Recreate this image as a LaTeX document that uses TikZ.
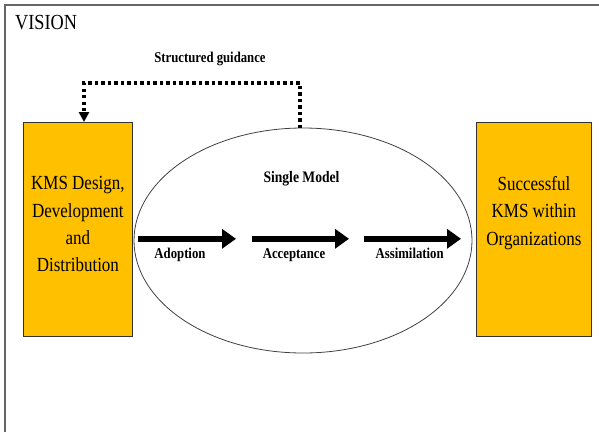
\documentclass[tikz,border=0pt]{standalone}
\usepackage{fontspec}
\setmainfont[FakeStretch=0.85]{Liberation Serif}
\usetikzlibrary{arrows.meta,shapes.geometric}
\definecolor{gold}{HTML}{FFC000}
\begin{document}
\begin{tikzpicture}[x=1pt,y=-1pt,
  goldbox/.style={draw=black!80, line width=0.8pt, fill=gold, minimum width=109pt,
    minimum height=214pt, anchor=north west, inner sep=0pt},
  boxtext/.style={anchor=north, align=center, inner sep=0pt,
    font=\fontsize{20}{27.4}\selectfont},
  stagearrow/.style={line width=6.5pt, -{Triangle[length=14pt,width=19pt]}},
  stagelabel/.style={anchor=base, font=\bfseries\fontsize{15}{17}\selectfont, inner sep=0pt},
  guide/.style={line width=3.2pt, dash pattern=on 3.2pt off 3.3pt, line cap=butt,
    -{Triangle[length=10pt,width=10pt]}}]
  \useasboundingbox (0,0) rectangle (599,432);
  % outer frame (left and top edges only)
  \draw[black!60, line width=1.4pt] (5,432) -- (5,5) -- (599,5);
  \node[anchor=west, font=\fontsize{21.5}{24}\selectfont, inner sep=0pt] (title) at (15,22.5) {VISION};

  % the two end boxes
  \node[goldbox] (kms) at (23,122) {};
  \node[boxtext] (kmstext) at (kms.center |- 0,176.3) {KMS Design,\\Development\\and\\Distribution};
  \node[goldbox, minimum width=115pt] (succ) at (476,122) {};
  \node[boxtext] (succtext) at (succ.center |- 0,176.3) {Successful\\KMS within\\Organizations};

  % central model
  \node[draw=black!75, line width=0.8pt, ellipse, minimum width=338pt, minimum height=225pt,
    inner sep=0pt] (model) at (303,240.5) {};
  \node[stagelabel, font=\bfseries\fontsize{16}{18}\selectfont] (single) at (301.5,182.7) {Single Model};

  % stages
  \coordinate (a1) at (138,238.8); \coordinate (a2) at (236,238.8);
  \coordinate (b1) at (252,238.8); \coordinate (b2) at (349,238.8);
  \coordinate (c1) at (364,238.8); \coordinate (c2) at (461,238.8);
  \draw[stagearrow] (a1) -- (a2);
  \draw[stagearrow] (b1) -- (b2);
  \draw[stagearrow] (c1) -- (c2);
  \node[stagelabel] (adopt) at (180,258.3) {Adoption};
  \node[stagelabel] (accept) at (294,258.3) {Acceptance};
  \node[stagelabel] (assim) at (409.7,258.3) {Assimilation};

  % feedback path
  \node[stagelabel] (guidance) at (210,62.3) {Structured guidance};
  \coordinate (top) at (300,128);
  \coordinate (bendR) at (300,83);
  \coordinate (bendL) at (84,83);
  \draw[guide] (top) -- (bendR) -- (bendL) -- (bendL |- kms.north);
\end{tikzpicture}
\end{document}
